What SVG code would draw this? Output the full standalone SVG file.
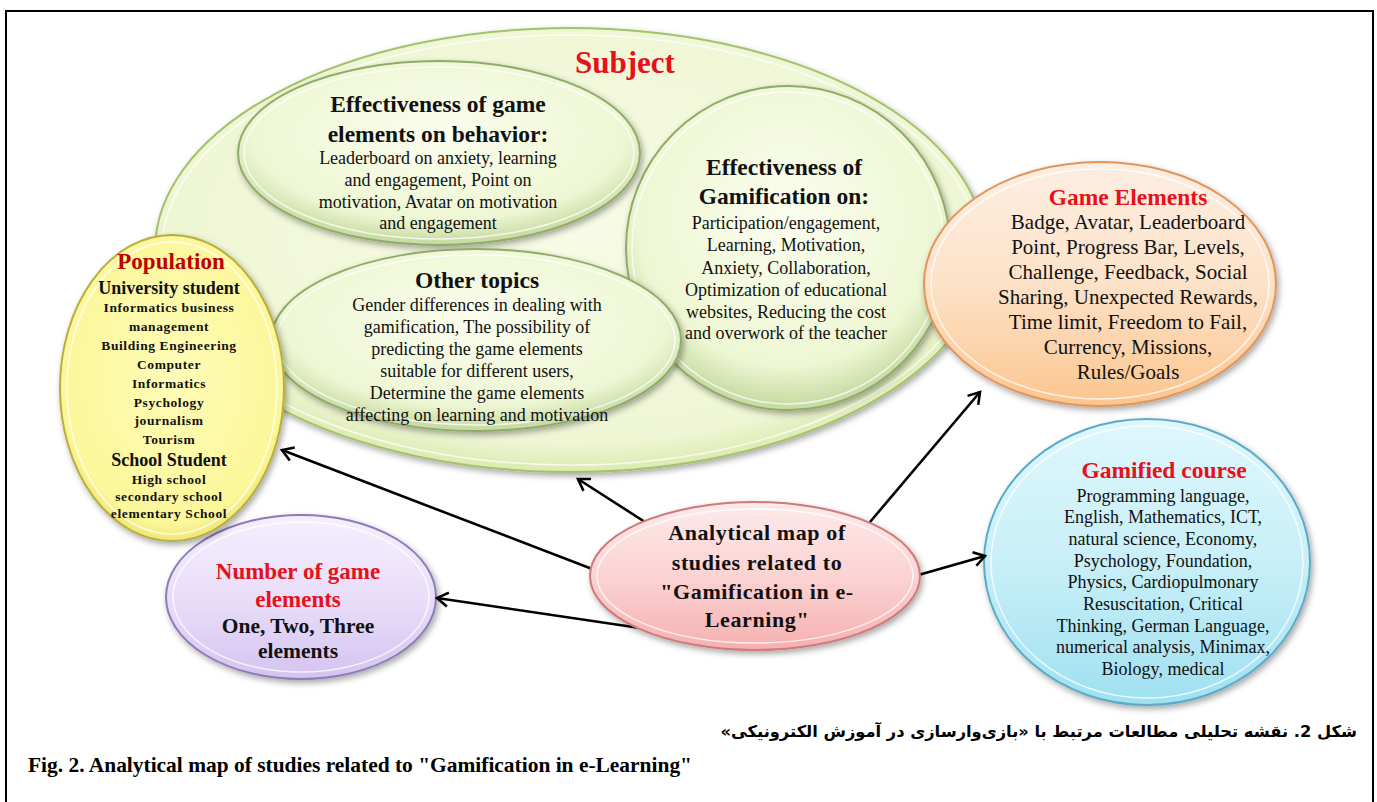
<svg xmlns="http://www.w3.org/2000/svg" width="1377" height="802" viewBox="0 0 1377 802">
<defs>
<style>
.t{font-family:"Liberation Serif","Times New Roman",serif;text-anchor:middle;fill:#111;}
.b{font-weight:bold;}
.red{fill:#e8101a;}
.dred{fill:#c00000;}
.ring{fill:none;stroke:#ffffff;stroke-opacity:0.75;stroke-width:1.5;}
.conn line{stroke:#000;stroke-width:2.6;marker-end:url(#arr);}
</style>
<filter id="sh" x="-10%" y="-10%" width="120%" height="125%">
<feDropShadow dx="2" dy="3" stdDeviation="3" flood-color="#000" flood-opacity="0.35"/>
</filter>
<radialGradient id="gSub" cx="50%" cy="45%" r="55%">
<stop offset="0" stop-color="#f8fbe6"/><stop offset="0.88" stop-color="#eff6d4"/><stop offset="1" stop-color="#dbeab0"/>
</radialGradient>
<radialGradient id="gGrn" cx="50%" cy="40%" r="58%">
<stop offset="0" stop-color="#fbfdee"/><stop offset="0.8" stop-color="#eef7d4"/><stop offset="1" stop-color="#c9dca5"/>
</radialGradient>
<radialGradient id="gYel" cx="50%" cy="45%" r="58%">
<stop offset="0" stop-color="#fefcb8"/><stop offset="0.85" stop-color="#fcf79a"/><stop offset="1" stop-color="#e6dc62"/>
</radialGradient>
<linearGradient id="gOra" x1="0" y1="0" x2="0" y2="1">
<stop offset="0" stop-color="#fdeee2"/><stop offset="0.5" stop-color="#fde2c8"/><stop offset="1" stop-color="#fbc58e"/>
</linearGradient>
<linearGradient id="gCya" x1="0" y1="0" x2="0" y2="1">
<stop offset="0" stop-color="#dff7fc"/><stop offset="0.5" stop-color="#c8eff8"/><stop offset="1" stop-color="#9fe0f0"/>
</linearGradient>
<linearGradient id="gPur" x1="0" y1="0" x2="0" y2="1">
<stop offset="0" stop-color="#f5effd"/><stop offset="0.5" stop-color="#e9def9"/><stop offset="1" stop-color="#d4c3f0"/>
</linearGradient>
<linearGradient id="gPnk" x1="0" y1="0" x2="0" y2="1">
<stop offset="0" stop-color="#fdeaea"/><stop offset="0.5" stop-color="#fbd3d3"/><stop offset="1" stop-color="#f6b0b0"/>
</linearGradient>
<marker id="arr" markerUnits="userSpaceOnUse" markerWidth="18" markerHeight="18" viewBox="0 0 18 18" refX="14" refY="9" orient="auto">
<path d="M3,2 L14,9 L3,16" fill="none" stroke="#000" stroke-width="2.6" stroke-linejoin="miter"/>
</marker>
</defs>

<rect x="6" y="11" width="1367" height="800" fill="#fff" stroke="#000" stroke-width="2"/>

<g id="subject">
<ellipse cx="570" cy="250" rx="415" ry="222" fill="url(#gSub)" stroke="#a3c26a" stroke-width="2" filter="url(#sh)"/>
<ellipse class="ring" cx="570" cy="250" rx="408" ry="215"/>
<text class="t b red" x="625" y="73" font-size="31">Subject</text>
</g>

<g id="eff-gamification">
<ellipse cx="788" cy="248" rx="162" ry="162" fill="url(#gGrn)" stroke="#8fab6a" stroke-width="2" filter="url(#sh)"/>
<ellipse class="ring" cx="788" cy="248" rx="156" ry="156"/>
<text class="t b" font-size="23.5"><tspan x="784" y="175">Effectiveness of</tspan><tspan x="784" y="204">Gamification on:</tspan></text>
<text class="t" font-size="18"><tspan x="786" y="229">Participation/engagement,</tspan><tspan x="786" y="251">Learning, Motivation,</tspan><tspan x="786" y="274">Anxiety, Collaboration,</tspan><tspan x="786" y="296">Optimization of educational</tspan><tspan x="786" y="318">websites, Reducing the cost</tspan><tspan x="786" y="339">and overwork of the teacher</tspan></text>
</g>

<g id="eff-behavior">
<ellipse cx="439" cy="153" rx="201" ry="92" fill="url(#gGrn)" stroke="#8fab6a" stroke-width="2" filter="url(#sh)"/>
<ellipse class="ring" cx="439" cy="153" rx="195" ry="86"/>
<text class="t b" font-size="23.5"><tspan x="438" y="112">Effectiveness of game</tspan><tspan x="438" y="142">elements on behavior:</tspan></text>
<text class="t" font-size="18"><tspan x="438" y="164">Leaderboard on anxiety, learning</tspan><tspan x="438" y="186">and engagement, Point on</tspan><tspan x="438" y="208">motivation, Avatar on motivation</tspan><tspan x="438" y="229">and engagement</tspan></text>
</g>

<g id="other-topics">
<ellipse cx="476" cy="340" rx="205" ry="91" fill="url(#gGrn)" stroke="#8fab6a" stroke-width="2" filter="url(#sh)"/>
<ellipse class="ring" cx="476" cy="340" rx="199" ry="85"/>
<text class="t b" x="477" y="288" font-size="23.5">Other topics</text>
<text class="t" font-size="18"><tspan x="477" y="311">Gender differences in dealing with</tspan><tspan x="477" y="333">gamification, The possibility of</tspan><tspan x="477" y="355">predicting the game elements</tspan><tspan x="477" y="377">suitable for different users,</tspan><tspan x="477" y="399">Determine the game elements</tspan><tspan x="477" y="421">affecting on learning and motivation</tspan></text>
</g>

<g id="number-elements">
<ellipse cx="301" cy="597" rx="135" ry="82" fill="url(#gPur)" stroke="#8c7bb8" stroke-width="2" filter="url(#sh)"/>
<ellipse class="ring" cx="301" cy="597" rx="128" ry="75"/>
<text class="t b red" font-size="23"><tspan x="298" y="579">Number of game</tspan><tspan x="298" y="607">elements</tspan></text>
<text class="t b" font-size="21.5"><tspan x="298" y="633">One, Two, Three</tspan><tspan x="298" y="658">elements</tspan></text>
</g>

<g id="population">
<ellipse cx="172" cy="388" rx="112" ry="153" fill="url(#gYel)" stroke="#b8ae3c" stroke-width="2" filter="url(#sh)"/>
<ellipse class="ring" cx="172" cy="388" rx="105" ry="146"/>
<text class="t b dred" x="171" y="269" font-size="23">Population</text>
<text class="t b" x="169" y="294" font-size="18">University student</text>
<text class="t b" font-size="13.5" letter-spacing="0.6"><tspan x="169" y="312">Informatics business</tspan><tspan x="169" y="331">management</tspan><tspan x="169" y="350">Building Engineering</tspan><tspan x="169" y="369">Computer</tspan><tspan x="169" y="388">Informatics</tspan><tspan x="169" y="407">Psychology</tspan><tspan x="169" y="425">journalism</tspan><tspan x="169" y="444">Tourism</tspan></text>
<text class="t b" x="169" y="466" font-size="18">School Student</text>
<text class="t b" font-size="13.5" letter-spacing="0.6"><tspan x="169" y="484">High school</tspan><tspan x="169" y="501">secondary school</tspan><tspan x="169" y="518">elementary School</tspan></text>
</g>

<g id="gamified-course">
<ellipse cx="1147" cy="562" rx="163" ry="143" fill="url(#gCya)" stroke="#5aaac8" stroke-width="2" filter="url(#sh)"/>
<ellipse class="ring" cx="1147" cy="562" rx="156" ry="136"/>
<text class="t b red" x="1164" y="478" font-size="23.5">Gamified course</text>
<text class="t" font-size="18"><tspan x="1163" y="502">Programming language,</tspan><tspan x="1163" y="523">English, Mathematics, ICT,</tspan><tspan x="1163" y="545">natural science, Economy,</tspan><tspan x="1163" y="567">Psychology, Foundation,</tspan><tspan x="1163" y="588">Physics, Cardiopulmonary</tspan><tspan x="1163" y="610">Resuscitation, Critical</tspan><tspan x="1163" y="632">Thinking, German Language,</tspan><tspan x="1163" y="653">numerical analysis, Minimax,</tspan><tspan x="1163" y="675">Biology, medical</tspan></text>
</g>

<g id="game-elements">
<ellipse cx="1100" cy="284" rx="176" ry="122" fill="url(#gOra)" stroke="#e0955a" stroke-width="2" filter="url(#sh)"/>
<ellipse class="ring" cx="1100" cy="284" rx="169" ry="115"/>
<text class="t b red" x="1128" y="205" font-size="23.5">Game Elements</text>
<text class="t" font-size="21"><tspan x="1128" y="229">Badge, Avatar, Leaderboard</tspan><tspan x="1128" y="254">Point, Progress Bar, Levels,</tspan><tspan x="1128" y="279">Challenge, Feedback, Social</tspan><tspan x="1128" y="304">Sharing, Unexpected Rewards,</tspan><tspan x="1128" y="329">Time limit, Freedom to Fail,</tspan><tspan x="1128" y="354">Currency, Missions,</tspan><tspan x="1128" y="379">Rules/Goals</tspan></text>
</g>

<g id="connectors" class="conn">
<line x1="600" y1="572" x2="282" y2="450"/>
<line x1="645" y1="522" x2="578" y2="479"/>
<line x1="870" y1="522" x2="980" y2="392"/>
<line x1="915" y1="576" x2="985" y2="556"/>
<line x1="640" y1="628" x2="437" y2="598"/>
</g>

<g id="center">
<ellipse cx="755" cy="576" rx="165" ry="74" fill="url(#gPnk)" stroke="#cf7a7a" stroke-width="2" filter="url(#sh)"/>
<ellipse class="ring" cx="755" cy="576" rx="158" ry="67"/>
<text class="t b" font-size="22" letter-spacing="0.6"><tspan x="757" y="540">Analytical map of</tspan><tspan x="757" y="570">studies related to</tspan><tspan x="757" y="599">"Gamification in e-</tspan><tspan x="757" y="627">Learning"</tspan></text>
</g>

<g id="captions">
<text x="1357" y="737" direction="rtl" text-anchor="start" font-family="'DejaVu Sans', sans-serif" font-weight="bold" font-size="16.3" fill="#000">شکل 2. نقشه تحلیلی مطالعات مرتبط با «بازی&#x200C;وارسازی در آموزش الکترونیکی»</text>
<text x="28" y="772" font-family="'Liberation Serif', 'Times New Roman', serif" font-weight="bold" font-size="21" textLength="664" lengthAdjust="spacingAndGlyphs" fill="#000">Fig. 2. Analytical map of studies related to "Gamification in e-Learning"</text>
</g>
</svg>
